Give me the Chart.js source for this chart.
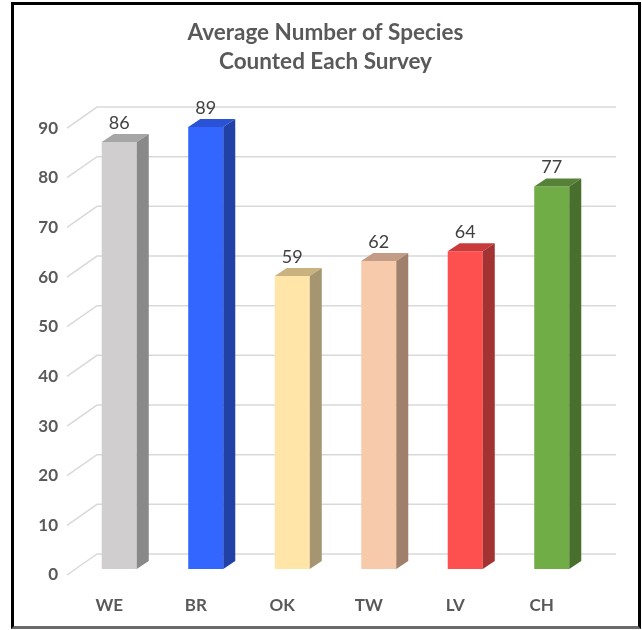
<!DOCTYPE html>
<html>
<head>
<meta charset="utf-8">
<script src="https://cdn.jsdelivr.net/npm/chart.js@4/dist/chart.umd.min.js"></script>
<style>
    body { margin: 0; background: #fff; }
    #wrap { position: relative; width: 642px; height: 630px; }
    #frame {
        position: absolute;
        left: 11px; top: 2px;
        width: 624px; height: 621px;
        border: 3px solid #000;
        border-bottom-color: #6a6a6a;
        pointer-events: none;
    }
</style>
</head>
<body>
<div id="wrap">
    <canvas id="speciesChart" width="642" height="630"></canvas>
    <div id="frame"></div>
</div>
<script>
// 数据
const sites = ['WE', 'BR', 'OK', 'TW', 'LV', 'CH'];
const avgSpecies = [86, 89, 59, 62, 64, 77];
const titleLines = ['Average Number of Species', 'Counted Each Survey'];

// 柱子颜色：正面 / 顶面 / 侧面
const frontColors = ['#D0CECE', '#3366FF', '#FFE5A8', '#F8CAAC', '#FF5050', '#70AD47'];
const topColors = ['#A6A6A6', '#2A52D6', '#C9B27F', '#C39C85', '#C83B3B', '#558236'];
const sideColors = ['#898989', '#2141A6', '#A59570', '#A0806A', '#A33232', '#486F2E'];

// 3D偏移
const BAR_DX = 12, BAR_DY = 8;        // 柱子深度
const BACK_DX = 21, BACK_DY = 15;     // 柱子平面 -> 背墙
const FRONT_DX = -9, FRONT_DY = 6;    // 柱子平面 -> 前沿

const textFont = 'Lato, "Open Sans", sans-serif';

// 背墙网格线 + 左侧斜线
const backWallPlugin = {
    id: 'backWall',
    beforeDatasetsDraw(chart) {
        const ctx = chart.ctx;
        const yScale = chart.scales.y;
        const area = chart.chartArea;
        ctx.save();
        ctx.strokeStyle = '#D9D9D9';
        ctx.lineWidth = 1.5;
        yScale.ticks.forEach(t => {
            const y = yScale.getPixelForValue(t.value);
            ctx.beginPath();
            ctx.moveTo(area.left + FRONT_DX, y + FRONT_DY);
            ctx.lineTo(area.left + BACK_DX, y - BACK_DY);
            ctx.lineTo(area.right + BACK_DX, y - BACK_DY);
            ctx.stroke();
        });
        ctx.restore();
    }
};

// 柱子顶面、侧面和数值标签
const bar3dPlugin = {
    id: 'bar3d',
    afterDatasetsDraw(chart) {
        const ctx = chart.ctx;
        const meta = chart.getDatasetMeta(0);
        ctx.save();
        meta.data.forEach((bar, i) => {
            const half = bar.width / 2;
            const l = bar.x - half, r = bar.x + half;
            const top = bar.y, base = bar.base;

            // 顶面
            ctx.fillStyle = topColors[i];
            ctx.beginPath();
            ctx.moveTo(l, top);
            ctx.lineTo(l + BAR_DX, top - BAR_DY);
            ctx.lineTo(r + BAR_DX, top - BAR_DY);
            ctx.lineTo(r, top);
            ctx.closePath();
            ctx.fill();

            // 侧面
            ctx.fillStyle = sideColors[i];
            ctx.beginPath();
            ctx.moveTo(r, top);
            ctx.lineTo(r + BAR_DX, top - BAR_DY);
            ctx.lineTo(r + BAR_DX, base - BAR_DY);
            ctx.lineTo(r, base);
            ctx.closePath();
            ctx.fill();

            // 数值
            ctx.fillStyle = '#404040';
            ctx.font = '18px ' + textFont;
            ctx.textAlign = 'center';
            ctx.textBaseline = 'middle';
            ctx.fillText(avgSpecies[i], bar.x, top - 19);
        });
        ctx.restore();
    }
};

const ctx = document.getElementById('speciesChart').getContext('2d');
new Chart(ctx, {
    type: 'bar',
    data: {
        labels: sites,
        datasets: [{
            data: avgSpecies,
            backgroundColor: frontColors,
            borderWidth: 0,
            categoryPercentage: 1,
            barPercentage: 0.405
        }]
    },
    options: {
        responsive: false,
        animation: false,
        layout: { padding: { left: 11, right: 2, top: 0, bottom: 0 } },
        plugins: {
            legend: { display: false },
            tooltip: { enabled: false },
            title: {
                display: true,
                text: titleLines,
                color: '#595959',
                font: { family: textFont, size: 22.5, weight: 'bold', lineHeight: 1.29 },
                padding: { top: 18.5, bottom: 45.5 }
            }
        },
        scales: {
            x: {
                grid: { display: false, drawTicks: false },
                border: { display: false },
                ticks: {
                    color: '#595959',
                    font: { family: textFont, size: 17, weight: 'bold' },
                    padding: 26,
                    labelOffset: -10
                },
                afterFit(scale) { scale.height = 61; }
            },
            y: {
                min: 0,
                max: 90,
                grid: { display: false, drawTicks: false },
                border: { display: false },
                ticks: {
                    stepSize: 10,
                    color: '#595959',
                    font: { family: textFont, size: 17, weight: 'bold' },
                    padding: 18,
                    labelOffset: 6
                },
                afterFit(scale) { scale.width = 65; }
            },
            // 右侧留白（背墙向右延伸的空间）
            yRight: {
                position: 'right',
                grid: { display: false, drawTicks: false },
                border: { display: false },
                ticks: { display: false },
                afterFit(scale) { scale.width = 45; }
            }
        }
    },
    plugins: [backWallPlugin, bar3dPlugin]
});
</script>
</body>
</html>
